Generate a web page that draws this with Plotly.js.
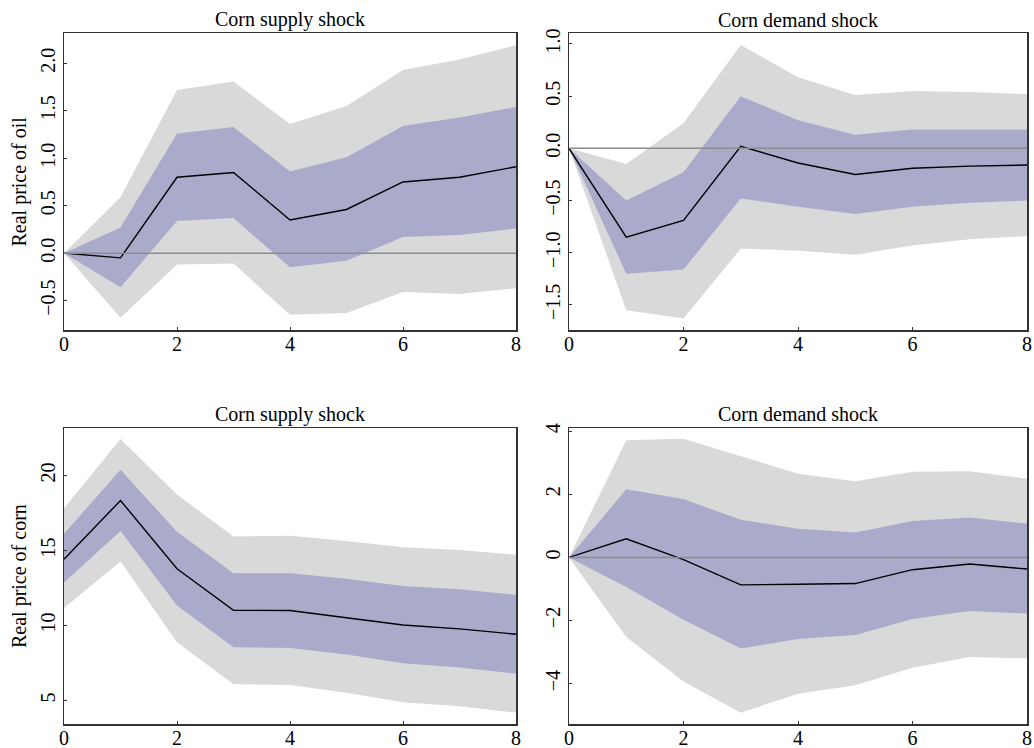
<!DOCTYPE html>
<html>
<head>
<meta charset="utf-8">
<script src="https://cdn.plot.ly/plotly-3.0.1.min.js"></script>
<style>html,body{margin:0;padding:0;background:#fff;}#chart{width:1034px;height:748px;}</style>
</head>
<body>
<div id="chart"></div>
<script>
// Horizons
const horizons = [0, 1, 2, 3, 4, 5, 6, 7, 8];

// Panel titles / row labels
const shockTitles = ["Corn supply shock", "Corn demand shock"];
const rowLabels = ["Real price of oil", "Real price of corn"];

// Oil response to corn supply shock
const oilSupplyMedian  = [0, -0.05, 0.80, 0.85, 0.35, 0.46, 0.75, 0.80, 0.91];
const oilSupplyHi68    = [0, 0.27, 1.26, 1.33, 0.86, 1.01, 1.34, 1.43, 1.54];
const oilSupplyLo68    = [0, -0.36, 0.34, 0.37, -0.15, -0.08, 0.17, 0.19, 0.26];
const oilSupplyHi95    = [0, 0.59, 1.72, 1.81, 1.36, 1.55, 1.93, 2.04, 2.19];
const oilSupplyLo95    = [0, -0.68, -0.12, -0.11, -0.65, -0.63, -0.41, -0.43, -0.37];

// Oil response to corn demand shock
const oilDemandMedian  = [0, -0.85, -0.69, 0.02, -0.14, -0.25, -0.19, -0.17, -0.16];
const oilDemandHi68    = [0, -0.50, -0.23, 0.50, 0.27, 0.13, 0.18, 0.18, 0.18];
const oilDemandLo68    = [0, -1.20, -1.16, -0.48, -0.56, -0.63, -0.56, -0.52, -0.50];
const oilDemandHi95    = [0, -0.15, 0.24, 0.99, 0.68, 0.51, 0.55, 0.54, 0.52];
const oilDemandLo95    = [0, -1.55, -1.63, -0.96, -0.98, -1.02, -0.93, -0.87, -0.84];

// Corn response to corn supply shock
const cornSupplyMedian = [14.42, 18.33, 13.78, 11.02, 11.00, 10.53, 10.04, 9.78, 9.42];
const cornSupplyHi68   = [16.11, 20.38, 16.24, 13.49, 13.49, 13.11, 12.64, 12.42, 12.04];
const cornSupplyLo68   = [12.87, 16.29, 11.33, 8.56, 8.51, 8.07, 7.49, 7.20, 6.80];
const cornSupplyHi95   = [17.82, 22.42, 18.73, 15.93, 15.98, 15.64, 15.22, 15.04, 14.71];
const cornSupplyLo95   = [11.16, 14.27, 8.89, 6.09, 6.04, 5.53, 4.89, 4.62, 4.20];

// Corn response to corn demand shock
const cornDemandMedian = [0, 0.59, -0.07, -0.87, -0.85, -0.83, -0.39, -0.21, -0.37];
const cornDemandHi68   = [0, 2.16, 1.85, 1.19, 0.91, 0.79, 1.15, 1.26, 1.07];
const cornDemandLo68   = [0, -0.94, -1.98, -2.89, -2.59, -2.46, -1.95, -1.70, -1.78];
const cornDemandHi95   = [0, 3.71, 3.76, 3.21, 2.65, 2.41, 2.71, 2.73, 2.49];
const cornDemandLo95   = [0, -2.52, -3.93, -4.92, -4.32, -4.05, -3.50, -3.16, -3.20];

// Tick values
const xTicks = [0, 2, 4, 6, 8];
const yTicks1 = [-0.5, 0, 0.5, 1.0, 1.5, 2.0];
const yTicks2 = [-1.5, -1.0, -0.5, 0, 0.5, 1.0];
const yTicks3 = [5, 10, 15, 20];
const yTicks4 = [-4, -2, 0, 2, 4];

const GREY = "#d9d9d9";
const BLUE = "#aaabcb";
const FONT = "Liberation Serif, Times New Roman, serif";

const panels = [
  {ax: "", med: oilSupplyMedian, h68: oilSupplyHi68, l68: oilSupplyLo68, h95: oilSupplyHi95, l95: oilSupplyLo95},
  {ax: "2", med: oilDemandMedian, h68: oilDemandHi68, l68: oilDemandLo68, h95: oilDemandHi95, l95: oilDemandLo95},
  {ax: "3", med: cornSupplyMedian, h68: cornSupplyHi68, l68: cornSupplyLo68, h95: cornSupplyHi95, l95: cornSupplyLo95},
  {ax: "4", med: cornDemandMedian, h68: cornDemandHi68, l68: cornDemandLo68, h95: cornDemandHi95, l95: cornDemandLo95}
];

const traces = [];
panels.forEach(p => {
  const xa = "x" + p.ax, ya = "y" + p.ax;
  const base = {x: horizons, xaxis: xa, yaxis: ya, mode: "lines", hoverinfo: "skip", showlegend: false};
  traces.push(Object.assign({}, base, {y: p.l95, line: {width: 0, color: GREY}}));
  traces.push(Object.assign({}, base, {y: p.h95, line: {width: 0, color: GREY}, fill: "tonexty", fillcolor: GREY}));
  traces.push(Object.assign({}, base, {y: p.l68, line: {width: 0, color: BLUE}}));
  traces.push(Object.assign({}, base, {y: p.h68, line: {width: 0, color: BLUE}, fill: "tonexty", fillcolor: BLUE}));
  traces.push(Object.assign({}, base, {y: p.med, line: {width: 1.4, color: "#000"}}));
});

const W = 1034, H = 748;
const colX = [[64 / W, 516 / W], [569 / W, 1027 / W]];
const rowY = [[1 - 330 / H, 1 - 33 / H], [1 - 724 / H, 1 - 428 / H]];

function xaxis(col, anchor) {
  return {domain: colX[col], range: [0, 8], tickvals: xTicks, ticktext: xTicks.map(String),
    ticks: "inside", ticklen: 3, tickcolor: "#333", showgrid: false, zeroline: false,
    showline: true, linecolor: "#333", linewidth: 1.5, mirror: true, anchor: anchor,
    ticklabelstandoff: -5,
    tickfont: {family: FONT, size: 20, color: "#000"}, automargin: false, fixedrange: true};
}
function yaxis(row, anchor, range, ticks) {
  return {domain: rowY[row], range: range, tickvals: ticks,
    ticktext: ticks.map(v => {
      const s = (Number.isInteger(v) && Math.abs(range[1] - range[0]) > 5) ? String(Math.abs(v)) : Math.abs(v).toFixed(1);
      return (v < 0 ? "\u2212" : "") + s;
    }),
    tickangle: -90, ticks: "inside", ticklen: 3, tickcolor: "#333", showgrid: false, zeroline: false,
    showline: true, linecolor: "#333", linewidth: 1.5, mirror: true, anchor: anchor,
    tickfont: {family: FONT, size: 20, color: "#000"}, automargin: false, fixedrange: true};
}

const layout = {
  width: W, height: H,
  margin: {l: 0, r: 0, t: 0, b: 0},
  paper_bgcolor: "#fff", plot_bgcolor: "#fff",
  font: {family: FONT, size: 20, color: "#000"},
  showlegend: false,
  xaxis: xaxis(0, "y"), yaxis: yaxis(0, "x", [-0.81, 2.32], yTicks1),
  xaxis2: xaxis(1, "y2"), yaxis2: yaxis(0, "x2", [-1.74, 1.105], yTicks2),
  xaxis3: xaxis(0, "y3"), yaxis3: yaxis(1, "x3", [3.44, 23.16], yTicks3),
  xaxis4: xaxis(1, "y4"), yaxis4: yaxis(1, "x4", [-5.28, 4.1], yTicks4),
  shapes: ["", "2", "4"].map(a => ({type: "line", xref: "x" + a + " domain", yref: "y" + a,
    x0: 0, x1: 1, y0: 0, y1: 0, layer: "above", line: {color: "#8c8c8c", width: 1.5}})),
  annotations: [
    {text: shockTitles[0], xref: "x domain", yref: "paper", x: 0.5, y: 1 - 20 / H, showarrow: false, xanchor: "center", yanchor: "middle", font: {size: 20}},
    {text: shockTitles[1], xref: "x2 domain", yref: "paper", x: 0.5, y: 1 - 20 / H, showarrow: false, xanchor: "center", yanchor: "middle", font: {size: 20}},
    {text: shockTitles[0], xref: "x3 domain", yref: "paper", x: 0.5, y: 1 - 414 / H, showarrow: false, xanchor: "center", yanchor: "middle", font: {size: 20}},
    {text: shockTitles[1], xref: "x4 domain", yref: "paper", x: 0.5, y: 1 - 414 / H, showarrow: false, xanchor: "center", yanchor: "middle", font: {size: 20}},
    {text: rowLabels[0], xref: "paper", yref: "y domain", x: 19 / W, y: 0.5, showarrow: false, textangle: -90, xanchor: "center", yanchor: "middle", font: {size: 20}},
    {text: rowLabels[1], xref: "paper", yref: "y3 domain", x: 19 / W, y: 0.5, showarrow: false, textangle: -90, xanchor: "center", yanchor: "middle", font: {size: 20}}
  ]
};

Plotly.newPlot("chart", traces, layout, {displayModeBar: false, staticPlot: true});
</script>
</body>
</html>
